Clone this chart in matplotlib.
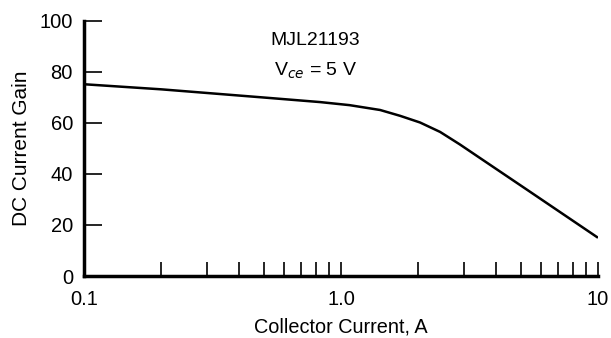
import matplotlib
matplotlib.use("Agg")
import matplotlib.pyplot as plt
from matplotlib.ticker import FixedLocator, NullFormatter, FixedFormatter

plt.rcParams['font.family'] = ['Liberation Sans', 'DejaVu Sans']

current = [0.1, 0.2, 0.5, 0.83, 1.08, 1.42, 1.7, 2.03, 2.43, 2.9, 3.4, 5.3, 10.0]
gain = [75.2, 73.2, 70.0, 68.2, 67.0, 65.1, 62.8, 60.2, 56.5, 51.6, 46.9, 33.8, 15.0]
x_major = [0.1, 1.0, 10]
x_major_labels = ["0.1", "1.0", "10"]
y_ticks = [0, 20, 40, 60, 80, 100]

fig = plt.figure(figsize=(6.11, 3.38), dpi=100)
ax = fig.add_axes([84/611, 1-276/338, (598-84)/611, (276-21)/338])
ax.plot(current, gain, color='black', lw=1.8, solid_capstyle='butt', solid_joinstyle='round')
ax.set_xscale('log')
ax.set_xlim(0.1, 10)
ax.set_ylim(0, 100)
ax.xaxis.set_major_locator(FixedLocator(x_major))
ax.xaxis.set_major_formatter(FixedFormatter(x_major_labels))
minor = [m * d for d in (0.1, 1.0) for m in range(2, 10)]
ax.xaxis.set_minor_locator(FixedLocator(minor))
ax.xaxis.set_minor_formatter(NullFormatter())
ax.set_yticks(y_ticks)
ax.spines['top'].set_visible(False)
ax.spines['right'].set_visible(False)
for s in ('left', 'bottom'):
    ax.spines[s].set_linewidth(2.5)
ax.tick_params(axis='x', which='both', direction='in', length=10, width=1.2, labelsize=14.5, pad=10)
ax.tick_params(axis='y', which='major', direction='in', length=13, width=1.2, labelsize=14.5, pad=8)
ax.set_xlabel('Collector Current, A', fontsize=14.3, labelpad=6)
ax.set_ylabel('DC Current Gain', fontsize=15, labelpad=6)
ax.text(0.45, 0.925, 'MJL21193', transform=ax.transAxes, ha='center', va='center', fontsize=14)
ax.text(0.45, 0.805, r'V$_{\mathit{ce}}$ = 5 V', transform=ax.transAxes, ha='center', va='center', fontsize=14)
fig.savefig('out.png', dpi=100)
